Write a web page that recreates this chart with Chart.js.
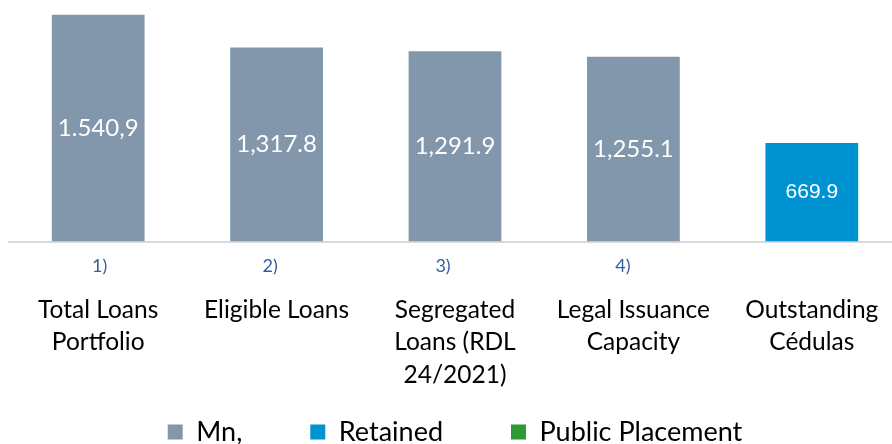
<!DOCTYPE html>
<html>
<head>
<meta charset="utf-8">
<script src="https://cdn.jsdelivr.net/npm/chart.js@4.4.0/dist/chart.umd.min.js"></script>
<style>
  html, body { margin: 0; padding: 0; background: #ffffff; overflow: hidden; }
  #wrap { position: relative; width: 910px; height: 444px; }
</style>
</head>
<body>
<div id="wrap"><canvas id="c"></canvas></div>
<script>
// ---- data ----
const categories = [
  ["", "Total Loans", "Portfolio"],
  ["", "Eligible Loans"],
  ["", "Segregated", "Loans (RDL", "24/2021)"],
  ["", "Legal Issuance", "Capacity"],
  ["", "Outstanding", "Cédulas"]
];
const noteLabels = ["1)", "2)", "3)", "4)", ""];
const seriesNames = ["Mn,", "Retained", "Public Placement"];
const mnValues = [1540.9, 1317.8, 1291.9, 1255.1, null];
const retainedValues = [null, null, null, null, 669.9];
const publicValues = [null, null, null, null, null];
const valueLabels = ["1.540,9", "1,317.8", "1,291.9", "1,255.1", "669.9"];
const yMin = 0;
const yMax = 1600;

const colors = ["#8297AB", "#0093D1", "#2E9A33"];

const LEGEND_BOX_H = 47.5;   // space reserved for the legend row
const LEGEND_ROW_OFFSET = 22; // from legend box top to item row top

const legendTweak = {
  id: 'legendTweak',
  afterInit(chart) {
    const lg = chart.legend;
    if (!lg) return;
    const origFit = lg.fit.bind(lg);
    lg.fit = function () { origFit(); this.height = LEGEND_BOX_H; };
  },
  afterLayout(chart) {
    const lg = chart.legend;
    if (!lg) return;
    const pad = lg.options.labels.padding;
    const bottom = lg.bottom;
    lg.top = lg.top + LEGEND_ROW_OFFSET - pad;
    lg.bottom = bottom;
  }
};

const valueLabelPlugin = {
  id: 'valueLabels',
  afterDatasetsDraw(chart) {
    const ctx = chart.ctx;
    ctx.save();
    ctx.fillStyle = '#ffffff';
    ctx.textAlign = 'center';
    ctx.textBaseline = 'middle';
    chart.data.datasets.forEach((ds, di) => {
      const meta = chart.getDatasetMeta(di);
      meta.data.forEach((el, i) => {
        const v = ds.data[i];
        if (v === null || v === undefined || v === 0) return;
        const yc = (el.y + el.base) / 2;
        if (di === 1) {
          ctx.font = '21px "Liberation Sans", Arial, sans-serif';
        } else {
          ctx.font = '24px Lato, "Open Sans", sans-serif';
        }
        ctx.fillText(valueLabels[i], el.x, yc);
      });
    });
    ctx.restore();
  }
};

const notePlugin = {
  id: 'notes',
  afterDraw(chart) {
    const ctx = chart.ctx;
    const xs = chart.scales.x;
    const dx = [1.5, -6.5, -12, -10.5, 0];
    ctx.save();
    ctx.fillStyle = '#3A5BA0';
    ctx.font = '18px Lato, "Open Sans", sans-serif';
    ctx.textAlign = 'center';
    ctx.textBaseline = 'middle';
    noteLabels.forEach((t, i) => {
      if (!t) return;
      ctx.fillText(t, xs.getPixelForValue(i) + dx[i], chart.chartArea.bottom + 24.5);
    });
    ctx.restore();
  }
};

new Chart(document.getElementById('c'), {
  type: 'bar',
  data: {
    labels: categories,
    datasets: [
      { label: seriesNames[0], data: mnValues, backgroundColor: colors[0] },
      { label: seriesNames[1], data: retainedValues, backgroundColor: colors[1] },
      { label: seriesNames[2], data: publicValues, backgroundColor: colors[2] }
    ]
  },
  options: {
    responsive: true,
    maintainAspectRatio: false,
    animation: false,
    events: [],
    layout: { padding: { left: 9, right: 9, top: 6, bottom: 0 } },
    datasets: { bar: { categoryPercentage: 1.0, barPercentage: 0.52 } },
    scales: {
      x: {
        stacked: true,
        grid: { display: false },
        border: { display: true, color: '#D9D9D9', width: 2 },
        ticks: {
          color: '#000000',
          font: { family: 'Lato, "Open Sans", sans-serif', size: 24.5, lineHeight: 1.327 },
          padding: 11.5,
          maxRotation: 0,
          autoSkip: false
        },
        afterFit(scale) { scale.height = 155; }
      },
      y: {
        stacked: true,
        display: false,
        min: yMin,
        max: yMax
      }
    },
    plugins: {
      legend: {
        position: 'bottom',
        labels: {
          color: '#000000',
          font: { family: 'Lato, "Open Sans", sans-serif', size: 27 },
          boxWidth: 15,
          boxHeight: 15,
          padding: 68
        }
      },
      tooltip: { enabled: false }
    }
  },
  plugins: [legendTweak, valueLabelPlugin, notePlugin]
});
</script>
</body>
</html>
